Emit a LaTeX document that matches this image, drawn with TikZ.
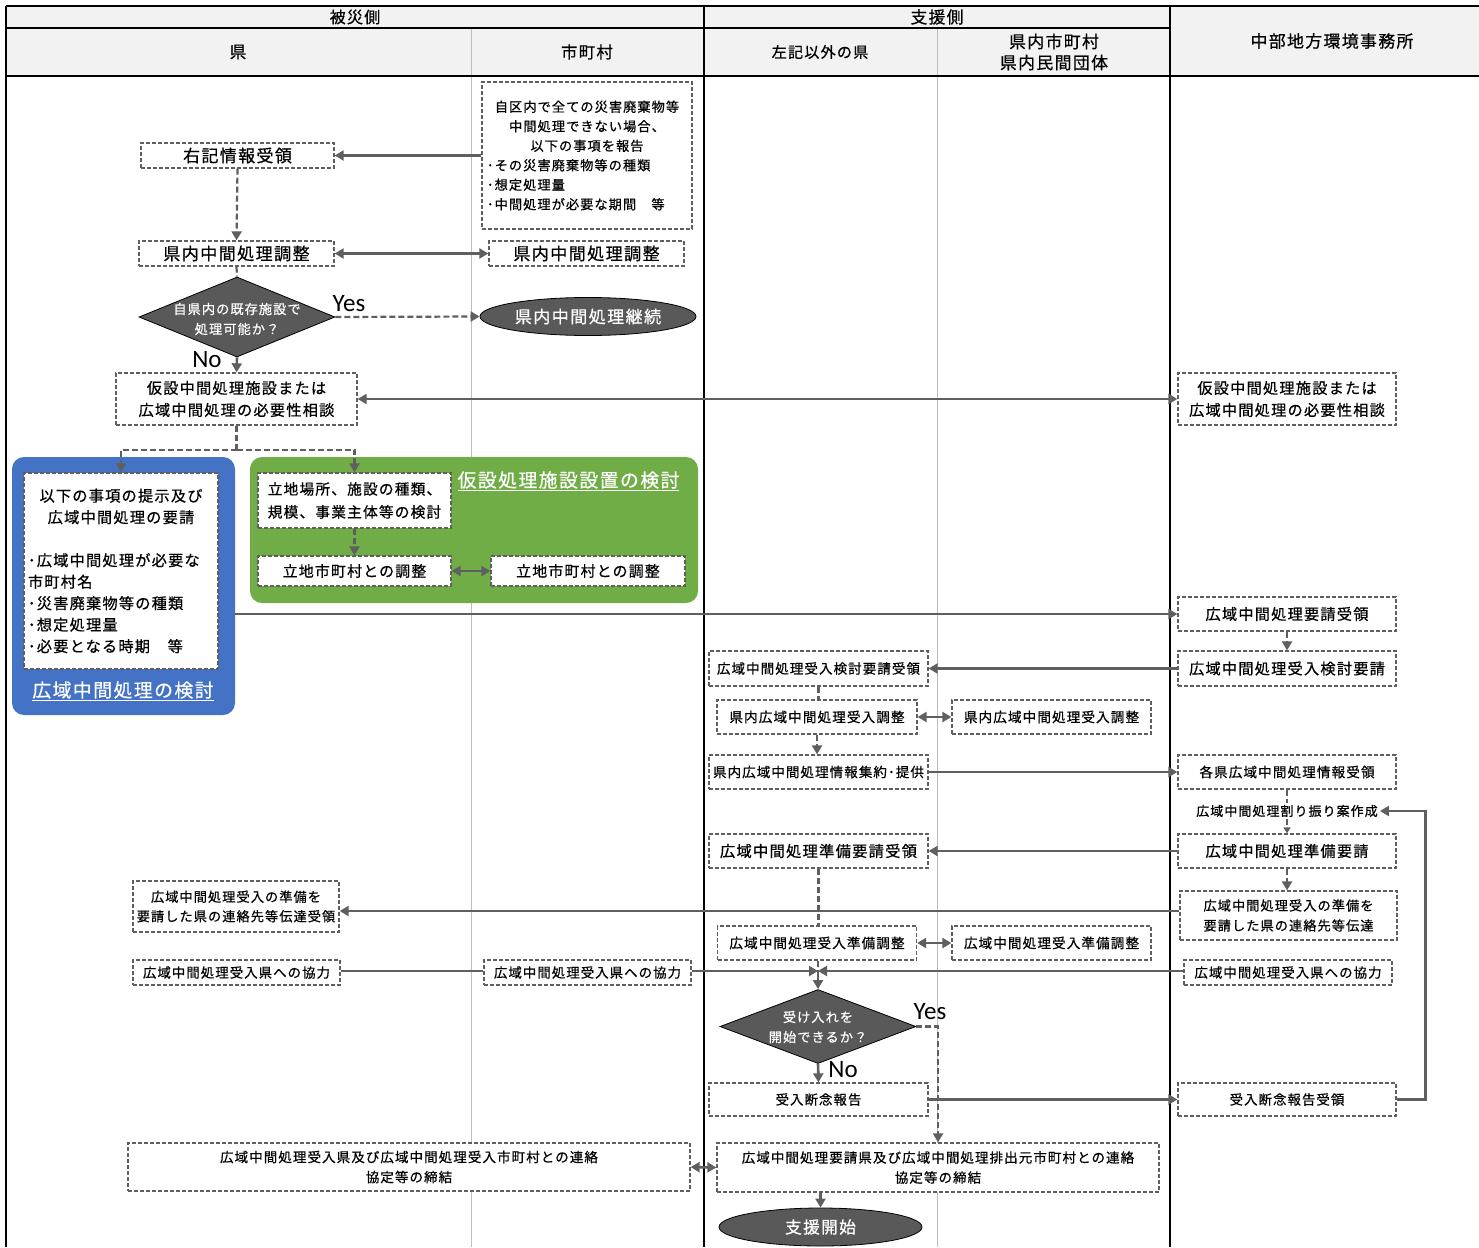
\documentclass[tikz,border=0pt]{standalone}
\usepackage{fontspec}
\setmainfont{Noto Sans CJK JP}[LetterSpace=8,FakeBold=0.6]
\newfontfamily\latf{Carlito}
\usetikzlibrary{arrows.meta,shapes.geometric,calc}
\definecolor{ln}{HTML}{5F5F5F}
\definecolor{hd}{HTML}{F2F2F2}
\definecolor{blu}{HTML}{4472C4}
\definecolor{grn}{HTML}{70AD47}
\definecolor{dk}{HTML}{595959}
\definecolor{grid}{HTML}{BDBDBD}
\begin{document}
\begin{tikzpicture}[x=1pt,y=-1pt,
  fs/.style 2 args={font=\fontsize{#1}{#2}\selectfont},
  dbox/.style={draw=ln, line width=1.3pt, dash pattern=on 4pt off 2pt, fill=white, inner sep=0pt, align=center},
  hdr/.style={inner sep=0pt, align=center},
  diam/.style={diamond, draw=black, line width=0.8pt, fill=dk, inner sep=0pt},
  dtext/.style={text=white, align=center, inner sep=0pt, fs={13.2}{20}},
  ell/.style={ellipse, draw=black, line width=0.8pt, fill=dk, text=white, inner sep=0pt},
  yn/.style={font=\latf\fontsize{25}{25}\selectfont, inner sep=0pt},
  sln/.style={draw=ln, line width=2.6pt},
  arr/.style={sln, -{Triangle[length=9pt,width=10pt]}},
  arrs/.style={sln, {Triangle[length=9pt,width=10pt]}-{Triangle[length=9pt,width=10pt]}},
  dln/.style={draw=ln, line width=2.2pt, dash pattern=on 6pt off 3pt},
  darr/.style={dln, -{Triangle[length=9pt,width=10pt]}},
  darrs/.style={dln, -{Triangle[length=6pt,width=7pt]}},
  frame/.style={draw=black, line width=2.5pt},
  gridl/.style={draw=grid, line width=0.8pt}
]
\useasboundingbox (0,0) rectangle (1479,1247);
% header background
\fill[hd] (6,6) rectangle (1479,76);
% grid lines
\draw[gridl] (471,28) -- (471,1247);
\draw[gridl] (937,28) -- (937,1247);
% frame
\draw[frame] (6,6) -- (1479,6);
\draw[frame] (6,28) -- (1170,28);
\draw[frame] (6,76) -- (1479,76);
\draw[frame] (6,6) -- (6,1247);
\draw[frame] (704,6) -- (704,1247);
\draw[frame] (1170,6) -- (1170,1247);
% header texts
\node[hdr, fs={16}{20}] (h1) at (355,17) {被災側};
\node[hdr, fs={16.7}{20}] (h2) at (937,17) {支援側};
\node[hdr, fs={16.9}{20}] (h3) at (1332,41) {中部地方環境事務所};
\node[hdr, fs={16.7}{20}] (h4) at (238,52) {県};
\node[hdr, fs={16.4}{20}] (h5) at (587,52) {市町村};
\node[hdr, fs={15.1}{20}] (h6) at (820,52) {左記以外の県};
\node[hdr, fs={16.9}{21}] (h7) at (1054,52) {県内市町村\\県内民間団体};

% group boxes
\node[fill=blu, rounded corners=12pt, minimum width=223, minimum height=258, inner sep=0pt] (blue) at (123.5,586) {};
\node[fill=grn, rounded corners=12pt, minimum width=448, minimum height=146, inner sep=0pt] (green) at (474,530) {};
\node[text=white, inner sep=0pt, fs={18.8}{22}] (bluet) at (123,691) {\underline{広域中間処理の検討}};
\node[text=white, inner sep=0pt, fs={18.8}{22}] (greent) at (568.5,481) {\underline{仮設処理施設設置の検討}};

% nodes
\node[dbox, fs={13.2}{19.5}, minimum width=210, minimum height=147, text width=200, align=left] (rep) at (587,155.5)
 {\makebox[200pt]{自区内で全ての災害廃棄物等}\\\makebox[200pt]{中間処理できない場合、}\\\makebox[200pt]{以下の事項を報告}\\･その災害廃棄物等の種類\\･想定処理量\\･中間処理が必要な期間　等};
\node[dbox, fs={17}{20}, minimum width=193, minimum height=25] (rinfo) at (237.5,155.5) {右記情報受領};
\node[dbox, fs={17.1}{20}, minimum width=195, minimum height=25] (adjL) at (236.5,253.5) {県内中間処理調整};
\node[dbox, fs={17.1}{20}, minimum width=195, minimum height=25] (adjR) at (586.5,253.5) {県内中間処理調整};
\node[diam, minimum width=196, minimum height=80] (d1) at (237,317) {};
\node[dtext] (d1t) at (237,319) {自県内の既存施設で\\処理可能か？};
\node[ell, fs={17.1}{20}, minimum width=216, minimum height=38] (cont) at (588,316.5) {県内中間処理継続};
\node[yn] (yes1) at (349,304) {Yes};
\node[yn] (no1) at (207,360) {No};
\node[dbox, fs={15.2}{22}, minimum width=241, minimum height=52] (kasL) at (236.5,399) {仮設中間処理施設または\\広域中間処理の必要性相談};
\node[dbox, fs={15.2}{22}, minimum width=218, minimum height=52] (kasR) at (1287,399) {仮設中間処理施設または\\広域中間処理の必要性相談};

\node[dbox, fs={15.2}{21.5}, minimum width=194, minimum height=196, text width=186, align=left] (inner) at (121,571)
 {\makebox[186pt]{以下の事項の提示及び}\\\makebox[186pt]{広域中間処理の要請}\\[21.5pt]･広域中間処理が必要な\\市町村名\\･災害廃棄物等の種類\\･想定処理量\\･必要となる時期　等};
\node[dbox, fs={14.7}{23}, minimum width=193, minimum height=55] (ritchi) at (354.5,500.5) {立地場所、施設の種類、\\規模、事業主体等の検討};
\node[dbox, fs={14.9}{20}, minimum width=193, minimum height=30] (coordL) at (354.5,571) {立地市町村との調整};
\node[dbox, fs={14.9}{20}, minimum width=194, minimum height=30] (coordR) at (588,571) {立地市町村との調整};

\node[dbox, fs={15.2}{20}, minimum width=218, minimum height=34] (reqrec) at (1287,614) {広域中間処理要請受領};
\node[dbox, fs={15.2}{20}, minimum width=218, minimum height=35] (exreq) at (1287,668.5) {広域中間処理受入検討要請};
\node[dbox, fs={13.5}{20}, minimum width=219, minimum height=35] (exrec) at (818.5,668.5) {広域中間処理受入検討要請受領};
\node[dbox, fs={13.6}{20}, minimum width=200, minimum height=34] (kadjL) at (817,717) {県内広域中間処理受入調整};
\node[dbox, fs={13.6}{20}, minimum width=199, minimum height=34] (kadjR) at (1051.5,717) {県内広域中間処理受入調整};
\node[dbox, fs={13.5}{20}, minimum width=219, minimum height=34] (info) at (818.5,772) {県内広域中間処理情報集約･提供};
\node[dbox, fs={13.6}{20}, minimum width=218, minimum height=34] (einfo) at (1287,772) {各県広域中間処理情報受領};
\node[inner sep=2pt, fs={13}{20}] (alloc) at (1287,811) {広域中間処理割り振り案作成};
\node[dbox, fs={15.2}{20}, minimum width=218, minimum height=34] (prep) at (1287,851) {広域中間処理準備要請};
\node[dbox, fs={15.3}{20}, minimum width=219, minimum height=34] (preprec) at (818.5,851) {広域中間処理準備要請受領};
\node[dbox, fs={13.2}{20}, minimum width=217, minimum height=49] (trans) at (1288.5,915.5) {広域中間処理受入の準備を\\要請した県の連絡先等伝達};
\node[dbox, fs={13.2}{19.5}, minimum width=206, minimum height=51] (transrec) at (236,906.5) {広域中間処理受入の準備を\\要請した県の連絡先等伝達受領};
\node[dbox, fs={13.6}{20}, minimum width=199, minimum height=34] (padjL) at (817,943) {広域中間処理受入準備調整};
\node[dbox, fs={13.6}{20}, minimum width=199, minimum height=34] (padjR) at (1051.5,943) {広域中間処理受入準備調整};
\node[dbox, fs={13.4}{20}, minimum width=207, minimum height=25] (coopL) at (236.5,972.5) {広域中間処理受入県への協力};
\node[dbox, fs={13.4}{20}, minimum width=207, minimum height=25] (coopM) at (587.5,972.5) {広域中間処理受入県への協力};
\node[dbox, fs={13.4}{20}, minimum width=208, minimum height=25] (coopR) at (1288,972.5) {広域中間処理受入県への協力};
\coordinate (m) at (818,971);
\node[diam, minimum width=196, minimum height=74] (d2) at (818,1026.5) {};
\node[dtext] (d2t) at (818,1027) {受け入れを\\開始できるか？};
\node[yn] (yes2) at (930,1012) {Yes};
\node[yn] (no2) at (843,1070) {No};
\node[dbox, fs={13.4}{20}, minimum width=219, minimum height=33] (aband) at (818.5,1099.5) {受入断念報告};
\node[dbox, fs={13.4}{20}, minimum width=218, minimum height=33] (abrec) at (1287,1099.5) {受入断念報告受領};
\node[dbox, fs={13.5}{20}, minimum width=562, minimum height=48] (bL) at (409,1167) {広域中間処理受入県及び広域中間処理受入市町村との連絡\\協定等の締結};
\node[dbox, fs={13.5}{20}, minimum width=442, minimum height=49] (bR) at (938,1167.5) {広域中間処理要請県及び広域中間処理排出元市町村との連絡\\協定等の締結};
\node[ell, fs={16.7}{20}, minimum width=203, minimum height=38] (start) at (820.5,1227) {支援開始};

% connectors
\draw[arr] (rep.west |- rinfo.east) -- (rinfo.east);
\draw[darr] (rinfo.south) -- (adjL.north);
\draw[arrs] (adjL.east) -- (adjR.west);
\draw[dln] (adjL.south) -- (d1.north);
\draw[darr] (d1.east) -- (cont.west);
\draw[arr] (d1.south) -- (kasL.north);
\draw[arrs] (kasL.east) -- (kasR.west);
\coordinate (split) at ($(kasL.south)+(0,24)$);
\draw[dln] (kasL.south) -- (split);
\draw[darr] (split) -| (inner.north);
\draw[darr] (split) -| (ritchi.north);
\draw[darr] (ritchi.south) -- (coordL.north);
\draw[arrs] (coordL.east) -- (coordR.west);
\draw[arr] (blue.east |- reqrec.west) -- (reqrec.west);
\draw[darr] (reqrec.south) -- (exreq.north);
\draw[arr] (exreq.west) -- (exrec.east);
\draw[dln] (exrec.south) -- (exrec.south |- kadjL.north);
\draw[arrs] (kadjL.east) -- (kadjR.west);
\draw[darr] (kadjL.south) -- (kadjL.south |- info.north);
\draw[arr] (info.east) -- (einfo.west);
\draw[dln] (einfo.south) -- (alloc.north);
\draw[darrs] (alloc.south) -- (prep.north);
\draw[arr] (prep.west) -- (preprec.east);
\draw[darr] (prep.south) -- (prep.south |- trans.north);
\draw[arr] (trans.west |- 0,911) -- (transrec.east |- 0,911);
\draw[dln] (preprec.south) -- (preprec.south |- padjL.north);
\draw[arrs] (padjL.east) -- (padjR.west);
\draw[dln] (m |- padjL.south) -- (m);
\draw[sln] (coopL.east |- m) -- (coopM.west |- m);
\draw[arr] (coopM.east |- m) -- (m);
\draw[arr] (coopR.west |- m) -- (m);
\draw[arr] (m) -- (d2.north);
\draw[arr] (d2.south) -- (aband.north);
\draw[darr] (d2.east) -| (bR.north);
\draw[arr] (aband.east) -- (abrec.west);
\draw[arr] (abrec.east) -- ++(29,0) |- (alloc.east);
\draw[arrs] (bL.east) -- (bR.west);
\draw[arr] (start.north |- bR.south) -- (start.north);
\end{tikzpicture}
\end{document}
